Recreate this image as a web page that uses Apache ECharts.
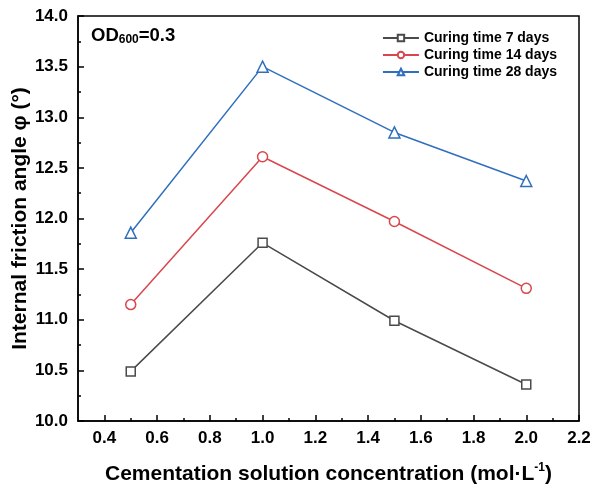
<!DOCTYPE html>
<html>
<head>
<meta charset="utf-8">
<script src="https://cdn.jsdelivr.net/npm/echarts@6/dist/echarts.min.js"></script>
<style>
html,body{margin:0;padding:0;background:#fff;}
#chart{width:593px;height:488px;}
</style>
</head>
<body>
<div id="chart"></div>
<script>
// Cementation solution concentration (mol·L-1)
const concentrations = [0.5, 1.0, 1.5, 2.0];
// Internal friction angle (°) per curing time
const days7 = [10.49, 11.76, 10.99, 10.36];
const days14 = [11.15, 12.61, 11.97, 11.31];
const days28 = [11.86, 13.50, 12.85, 12.37];
const seriesNames = ['Curing time 7 days', 'Curing time 14 days', 'Curing time 28 days'];
const xMajorTicks = [0.4, 0.6, 0.8, 1.0, 1.2, 1.4, 1.6, 1.8, 2.0, 2.2];
const xMinorTicks = [0.5, 0.7, 0.9, 1.1, 1.3, 1.5, 1.7, 1.9, 2.1];

const FONT = '"Liberation Sans", Arial, sans-serif';
const chart = echarts.init(document.getElementById('chart'));

function pairs(ys) { return concentrations.map((x, i) => [x, ys[i]]); }

const commonX = { type: 'value', min: 0.3, max: 2.2, gridIndex: 0, splitLine: { show: false } };

chart.setOption({
  animation: false,
  grid: { left: 78, right: 14, top: 16, bottom: 67, show: true, borderColor: '#000', borderWidth: 1.5,
    containLabel: false, outerBoundsMode: 'none' },
  legend: {
    right: 31, top: 26, orient: 'vertical', itemGap: 3, itemWidth: 36, itemHeight: 8,
    textStyle: { fontFamily: FONT, fontWeight: 'bold', fontSize: 14, color: '#000' },
    data: seriesNames
  },
  title: {
    text: '{b|OD}{s|600}{b|=0.3}', left: 86, top: 20,
    textStyle: { rich: {
      b: { fontFamily: FONT, fontWeight: 'bold', fontSize: 18.5, color: '#000' },
      s: { fontFamily: FONT, fontWeight: 'bold', fontSize: 12, color: '#000', verticalAlign: 'bottom', padding: [9, 0, 0, 0] }
    } }
  },
  xAxis: [
    Object.assign({}, commonX, {
      name: 'Cementation solution concentration (mol·L{sup|-1})',
      nameLocation: 'middle', nameGap: 41, nameMoveOverlap: false,
      nameTextStyle: { fontFamily: FONT, fontWeight: 'bold', fontSize: 21, color: '#000',
        rich: { sup: { fontFamily: FONT, fontWeight: 'bold', fontSize: 12, color: '#000', verticalAlign: 'top', padding: [0, 0, 12, 0] } } },
      axisLine: { show: true, lineStyle: { color: '#000', width: 1.5 } },
      axisTick: { show: true, inside: true, length: 6, customValues: xMajorTicks, lineStyle: { color: '#000', width: 1.5 } },
      axisLabel: { customValues: xMajorTicks, margin: 9, fontFamily: FONT, fontWeight: 'bold', fontSize: 17, color: '#000',
        formatter: v => v.toFixed(1) }
    }),
    Object.assign({}, commonX, {
      position: 'bottom',
      axisLine: { show: false },
      axisTick: { show: true, inside: true, length: 3, customValues: xMinorTicks, lineStyle: { color: '#000', width: 1.5 } },
      axisLabel: { show: false }
    })
  ],
  yAxis: {
    type: 'value', min: 10, max: 14, interval: 0.5,
    name: 'Internal friction angle φ (°)', nameLocation: 'middle', nameGap: 47, nameMoveOverlap: false,
    nameTextStyle: { fontFamily: FONT, fontWeight: 'bold', fontSize: 21, color: '#000' },
    axisLine: { show: true, lineStyle: { color: '#000', width: 1.5 } },
    axisTick: { show: true, inside: true, length: 6, lineStyle: { color: '#000', width: 1.5 } },
    minorTick: { show: true, splitNumber: 2, length: 3, lineStyle: { color: '#000', width: 1.5 } },
    splitLine: { show: false },
    axisLabel: { margin: 10, fontFamily: FONT, fontWeight: 'bold', fontSize: 17, color: '#000',
      formatter: v => v.toFixed(1) }
  },
  series: [
    { name: seriesNames[0], type: 'line', data: pairs(days7), symbol: 'rect', symbolSize: 9,
      itemStyle: { color: '#fff', borderColor: '#4a4a4a', borderWidth: 1.5 }, lineStyle: { color: '#4a4a4a', width: 1.5 } },
    { name: seriesNames[1], type: 'line', data: pairs(days14), symbol: 'circle', symbolSize: 10,
      itemStyle: { color: '#fff', borderColor: '#d9474e', borderWidth: 1.5 }, lineStyle: { color: '#d9474e', width: 1.5 } },
    { name: seriesNames[2], type: 'line', data: pairs(days28), symbol: 'triangle', symbolSize: 11,
      itemStyle: { color: '#fff', borderColor: '#2f6fbd', borderWidth: 1.5 }, lineStyle: { color: '#2f6fbd', width: 1.5 } }
  ]
});
</script>
</body>
</html>
